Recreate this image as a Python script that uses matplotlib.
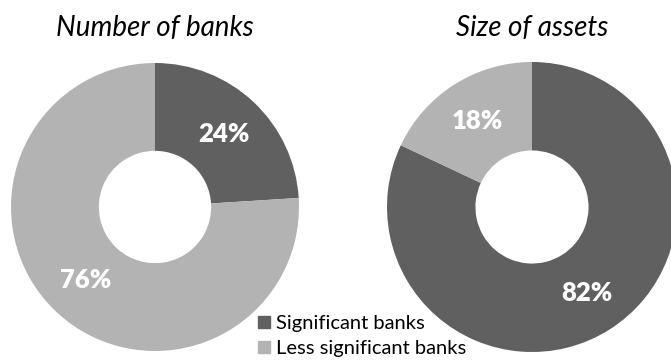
import matplotlib
matplotlib.use("Agg")
import matplotlib.pyplot as plt
from matplotlib.patches import Patch

# data
categories = ["Significant banks", "Less significant banks"]
number_of_banks = [24, 76]
size_of_assets = [82, 18]
titles = ["Number of banks", "Size of assets"]
colors = ["#606060", "#b3b3b3"]

W, H = 671, 364
fig = plt.figure(figsize=(W / 100, H / 100), dpi=100)
plt.rcParams['font.family'] = ['Lato', 'DejaVu Sans']


def donut_axes(cx, cy, r):
    # pixel centre / radius -> figure fraction
    return fig.add_axes([(cx - r) / W, (H - cy - r) / H, 2 * r / W, 2 * r / H])


for (cx, cy, r), vals, title in zip([(155, 207, 144), (532, 207, 145)],
                                    [number_of_banks, size_of_assets], titles):
    ax = donut_axes(cx, cy, r)
    wedges, texts, autotexts = ax.pie(vals, colors=colors, startangle=90, counterclock=False,
                                      radius=1, wedgeprops=dict(width=0.61, linewidth=0),
                                      autopct='%d%%', pctdistance=0.7)
    for t in autotexts:
        t.set_color('white')
        t.set_fontsize(18.5)
        t.set_fontweight('heavy')
    ax.set_xlim(-1, 1)
    ax.set_ylim(-1, 1)
    ax.set_aspect('auto')
    ax.axis('off')
    fig.text(cx / W, 1 - 28 / H, title, ha='center', va='center',
             fontsize=20, fontstyle='italic')

handles = [Patch(color=c, label=l) for c, l in zip(colors, categories)]
fig.legend(handles=handles, loc='upper left', bbox_to_anchor=(250 / W, 1 - 307 / H),
           frameon=False, fontsize=14.5, handlelength=0.6, handleheight=0.6,
           handletextpad=0.3, labelspacing=0.4, borderaxespad=0)

plt.savefig('out.png', dpi=100)
